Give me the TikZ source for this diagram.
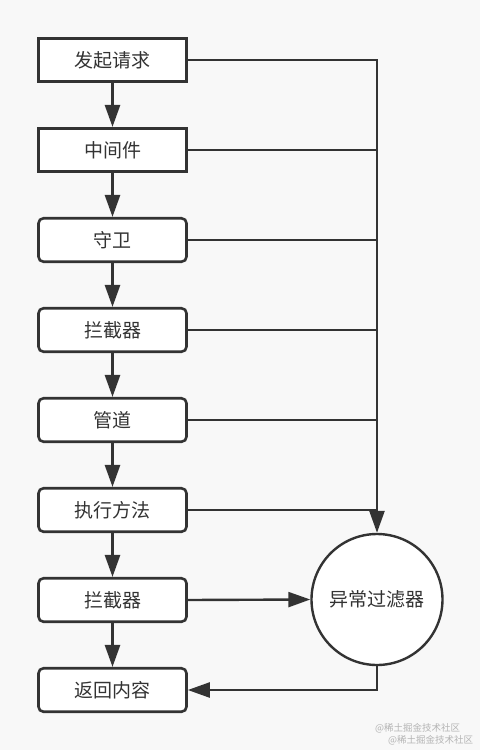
\documentclass[tikz,border=0pt]{standalone}
\usepackage{fontspec}
\newfontfamily\cjk{Noto Sans CJK SC}
\usetikzlibrary{arrows.meta,calc}
\definecolor{ink}{HTML}{333333}
\definecolor{bg}{HTML}{F8F8F8}
\definecolor{wm}{HTML}{B4B4B4}
\newcommand{\lowr}[1]{\raisebox{-2.5pt}{#1}}
\begin{document}
\begin{tikzpicture}[x=1pt,y=-1pt,
  box/.style={draw=ink,fill=white,line width=2.6pt,minimum width=148pt,minimum height=43.5pt,inner sep=0pt,font=\cjk\fontsize{19pt}{21pt}\selectfont,text=ink},
  sqbox/.style={box},
  rbox/.style={box,rounded corners=5pt},
  flow/.style={draw=ink,line width=2.6pt,-{Triangle[length=22pt,width=15pt]}},
  link/.style={draw=ink,line width=2.4pt},
  linkarr/.style={link,-{Triangle[length=22pt,width=15pt]}},
  wmtext/.style={text=wm,font=\cjk\fontsize{9.5pt}{11pt}\selectfont,inner sep=0pt}
]
\fill[bg] (0,0) rectangle (480,750);
\useasboundingbox (0,0) rectangle (480,750);
\node[sqbox] (b1) at (112.5,60) {\lowr{发起请求}};
\node[sqbox] (b2) at (112.5,150) {\lowr{中间件}};
\node[rbox] (b3) at (112.5,240) {\lowr{守卫}};
\node[rbox] (b4) at (112.5,330) {\lowr{拦截器}};
\node[rbox] (b5) at (112.5,420) {\lowr{管道}};
\node[rbox] (b6) at (112.5,510) {\lowr{执行方法}};
\node[rbox] (b7) at (112.5,600) {\lowr{拦截器}};
\node[rbox] (b8) at (112.5,690) {\lowr{返回内容}};
\node[circle,draw=ink,fill=white,line width=2.4pt,minimum size=131pt,inner sep=0pt,font=\cjk\fontsize{19pt}{21pt}\selectfont,text=ink] (ef) at (377,599.5) {\lowr{异常过滤器}};
\foreach \a/\b in {b1/b2,b2/b3,b3/b4,b4/b5,b5/b6,b6/b7,b7/b8}{
  \draw[flow] (\a.south) -- (\b.north);
}
\coordinate (top) at (b1.east -| ef.north);
\draw[linkarr] (b1.east) -- (top) -- (ef.north);
\foreach \a in {b2,b3,b4,b5,b6}{
  \draw[link] (\a.east) -- (\a.east -| ef.north);
}
\draw[linkarr] (b7.east) -- (ef.west);
\draw[linkarr] (ef.south) |- (b8.east);
\node[wmtext,anchor=west] (wm1) at (375,728) {@稀土掘金技术社区};
\node[wmtext,anchor=west] (wm2) at (388,740) {@稀土掘金技术社区};
\end{tikzpicture}
\end{document}
